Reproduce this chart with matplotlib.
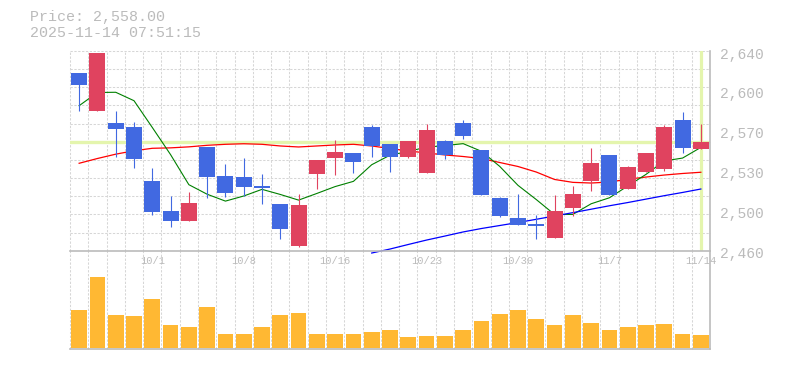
import numpy as np
import matplotlib
matplotlib.use("Agg")
import matplotlib.pyplot as plt
import matplotlib.transforms as mtransforms

# datos (35 sesiones, 2025-09-25 .. 2025-11-14)
etiquetas_fecha = ["10/1", "10/8", "10/16", "10/23", "10/30", "11/7", "11/14"]
pos_fecha = [4, 9, 14, 19, 24, 29, 34]

apertura = [2620.2, 2586.2, 2575.4, 2571.5, 2522.8, 2495.8, 2486.8, 2553.5, 2527.3, 2526.4,
            2518.6, 2502.4, 2464.5, 2529.4, 2543.8, 2548.1, 2571.5, 2556.2, 2544.7, 2530.3,
            2558.9, 2575.1, 2550.8, 2507.5, 2489.5, 2484.1, 2471.4, 2498.5, 2522.8, 2546.3,
            2515.6, 2531.2, 2533.9, 2577.8, 2551.9]
maximo = [2620.2, 2638.5, 2586.2, 2576.3, 2534.8, 2509.6, 2512.9, 2553.5, 2538.1, 2543.8,
          2529.4, 2502.4, 2511.1, 2542.0, 2560.0, 2548.1, 2573.6, 2556.2, 2558.9, 2574.2,
          2560.0, 2577.8, 2550.8, 2508.4, 2511.1, 2492.2, 2510.2, 2518.3, 2552.6, 2546.3,
          2536.4, 2548.1, 2573.3, 2585.0, 2574.2]
minimo = [2586.2, 2586.2, 2544.7, 2534.8, 2492.2, 2481.4, 2486.8, 2507.8, 2508.7, 2509.6,
          2502.4, 2470.8, 2463.6, 2515.9, 2528.5, 2530.3, 2544.7, 2531.2, 2543.8, 2530.3,
          2542.9, 2561.0, 2510.2, 2490.4, 2483.2, 2470.8, 2471.4, 2491.3, 2513.8, 2510.2,
          2515.6, 2531.2, 2532.1, 2548.1, 2551.9]
cierre = [2609.6, 2638.5, 2569.7, 2542.9, 2494.9, 2486.8, 2503.0, 2526.7, 2512.3, 2517.7,
          2516.8, 2479.8, 2501.5, 2542.0, 2549.0, 2540.2, 2554.6, 2544.7, 2558.9, 2568.8,
          2546.3, 2563.6, 2510.2, 2491.3, 2483.2, 2482.3, 2495.8, 2511.1, 2539.0, 2510.2,
          2535.5, 2548.1, 2571.5, 2552.3, 2558.0]
volumen = [38, 71, 33, 32, 49, 23, 21, 41, 14, 14, 21, 33, 35, 14, 14, 14, 16, 18, 11, 12,
           12, 18, 27, 34, 38, 29, 23, 33, 25, 18, 21, 23, 24, 14, 13]

media_5 = [2590.7, 2602.6, 2602.8, 2595.2, 2571.1, 2546.6, 2519.5, 2510.9, 2504.7, 2509.3,
           2515.3, 2510.7, 2505.6, 2511.6, 2517.8, 2522.5, 2537.5, 2546.1, 2549.5, 2553.4,
           2554.7, 2556.5, 2549.6, 2536.0, 2518.9, 2506.1, 2492.6, 2492.7, 2502.3, 2507.7,
           2518.3, 2528.8, 2540.9, 2543.5, 2553.1]
media_25 = [2538.8, 2543.1, 2547.0, 2550.1, 2552.3, 2552.7, 2553.6, 2555.0, 2555.9, 2556.4,
            2555.9, 2554.4, 2553.5, 2554.4, 2555.3, 2555.9, 2554.4, 2552.1, 2549.9, 2548.1,
            2546.3, 2544.9, 2543.1, 2539.5, 2535.9, 2530.9, 2524.2, 2521.6, 2521.0, 2521.9,
            2524.4, 2526.4, 2528.2, 2529.6, 2530.7]
media_75 = [np.nan] * 16 + [2457.9, 2461.5, 2465.6, 2469.6, 2473.2, 2476.9, 2480.0, 2482.7,
                            2485.4, 2488.3, 2491.3, 2494.3, 2497.4, 2500.5, 2503.4, 2506.5,
                            2509.6, 2512.5, 2515.6]

precio_actual = 2558.0
ticks_precio = [2460, 2496, 2532, 2568, 2604, 2640]
etiquetas_precio = ["2,460", "2,500", "2,530", "2,570", "2,600", "2,640"]

# colores
rojo = "#e0435f"
azul = "#4169e1"
naranja = "#ffb833"
verde_claro = "#e4f5ad"
gris = "#bbbbbb"
rejilla = "#d6d6d6"
fuente = "Liberation Mono"

n = len(cierre)
x = np.arange(n)

fig = plt.figure(figsize=(7.85, 3.7), dpi=100)
ax_p = fig.add_axes([70 / 785, 1 - 250.7 / 370, 640 / 785, 199.7 / 370])
ax_v = fig.add_axes([70 / 785, 1 - 349.3 / 370, 640 / 785, 98.6 / 370])
ax_v.patch.set_visible(False)
ax_v.set_zorder(-1)

guion = (0, (2.2, 1.5))

# panel de precios
ax_p.set_xlim(-0.5, n - 0.5)
ax_p.set_ylim(2460, 2640)
for gx in np.arange(-0.5, n - 0.5):
    ax_p.axvline(gx, color=rejilla, lw=0.75, ls=guion, zorder=0.5, clip_on=False)
for gy in np.linspace(2460, 2640, 12)[1:]:
    ax_p.axhline(gy, color=rejilla, lw=0.75, ls=guion, zorder=0.5, clip_on=False)

ax_p.axhline(precio_actual, color=verde_claro, lw=2.4, zorder=1)
ax_p.axvline(x[-1], ymin=0.01, ymax=1.0, color=verde_claro, lw=2.3, zorder=1)

ax_p.plot(x, media_25, color="red", lw=0.9, zorder=2)
ax_p.plot(x, media_5, color="green", lw=0.8, zorder=2)
ax_p.plot(x, media_75, color="blue", lw=0.9, zorder=2, clip_on=False)

for i in range(n):
    o, h, l, c = apertura[i], maximo[i], minimo[i], cierre[i]
    col = rojo if c >= o else azul
    ax_p.vlines(i, l, h, color=col, lw=0.8, zorder=3)
    alto = max(abs(c - o), 1.8)
    ax_p.bar(i, alto, bottom=min(o, c), width=0.875, color=col, zorder=4)

for s in ["top", "left"]:
    ax_p.spines[s].set_visible(False)
for s in ["bottom", "right"]:
    ax_p.spines[s].set_color(gris)
    ax_p.spines[s].set_linewidth(1.2)

ax_p.yaxis.tick_right()
ax_p.set_yticks(ticks_precio, etiquetas_precio)
ax_p.tick_params(axis="y", length=0, pad=7.2, labelsize=10.5, labelcolor=gris)
desplazar = mtransforms.ScaledTranslation(0, -2 / 100, fig.dpi_scale_trans)
for lab in ax_p.get_yticklabels():
    lab.set_fontfamily(fuente)
    lab.set_transform(lab.get_transform() + desplazar)

ax_p.set_xticks(pos_fecha, etiquetas_fecha)
ax_p.tick_params(axis="x", length=0, pad=3.8, labelsize=7.5, labelcolor=gris)
for lab in ax_p.get_xticklabels():
    lab.set_fontfamily(fuente)

# panel de volumen
ax_v.set_xlim(-0.5, n - 0.5)
ax_v.set_ylim(-1.3, 97.3)
for gx in np.arange(-0.5, n - 0.5):
    ax_v.axvline(gx, color=rejilla, lw=0.75, ls=guion, zorder=0.5, clip_on=False)
ax_v.bar(x, volumen, width=0.86, color=naranja, zorder=2)
ax_v.set_xticks([])
ax_v.set_yticks([])
for s in ["top", "left"]:
    ax_v.spines[s].set_visible(False)
for s in ["bottom", "right"]:
    ax_v.spines[s].set_color(gris)
    ax_v.spines[s].set_linewidth(1.2)

# cabecera
fig.text(30 / 785, 1 - 17.5 / 370, "Price: 2,558.00", color=gris, fontsize=10.8,
         family=fuente, va="center", ha="left")
fig.text(30 / 785, 1 - 33.3 / 370, "2025-11-14 07:51:15", color=gris, fontsize=10.8,
         family=fuente, va="center", ha="left")

fig.savefig("out.png", dpi=100)
